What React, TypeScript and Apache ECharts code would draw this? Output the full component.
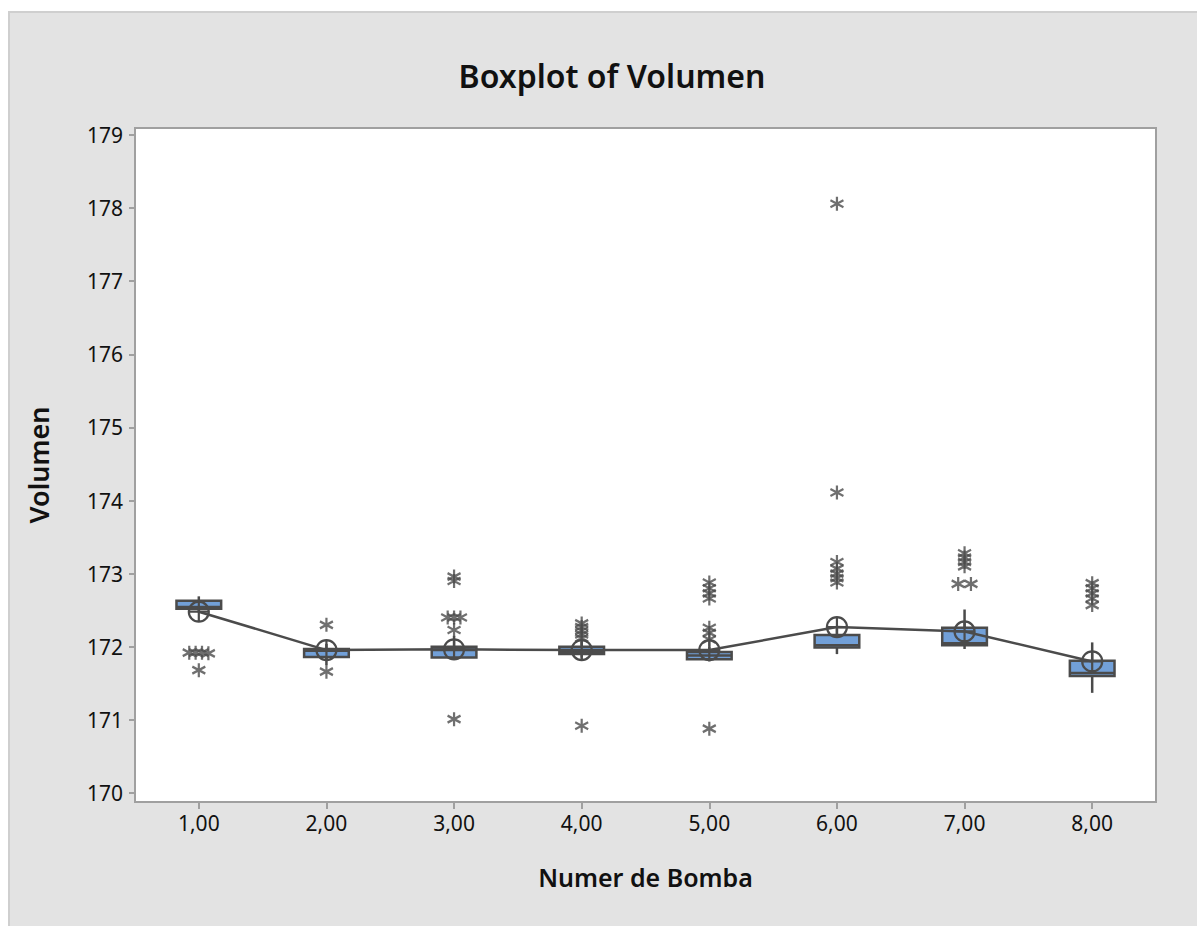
import React, { useEffect, useRef } from "react";
import * as echarts from "echarts";

// ---- data ----
const categories = ["1,00", "2,00", "3,00", "4,00", "5,00", "6,00", "7,00", "8,00"];
const yTicks = [170, 171, 172, 173, 174, 175, 176, 177, 178, 179];
// [lowWhisker, Q1, median, Q3, highWhisker]
const boxStats: number[][] = [
  [172.47, 172.52, 172.545, 172.63, 172.69],
  [171.75, 171.86, 171.945, 171.97, 172.04],
  [171.82, 171.855, 171.955, 172.0, 172.15],
  [171.85, 171.9, 171.93, 172.0, 172.07],
  [171.8, 171.83, 171.88, 171.93, 172.0],
  [171.9, 171.99, 172.02, 172.16, 172.25],
  [171.97, 172.02, 172.05, 172.26, 172.51],
  [171.37, 171.6, 171.64, 171.81, 172.06],
];
const means = [172.48, 171.955, 171.965, 171.955, 171.955, 172.27, 172.21, 171.8];
// [group (1-based), value, tie slot]
const outliers: number[][] = [
  [1, 171.92, -1.5], [1, 171.92, -0.5], [1, 171.92, 0.5], [1, 171.91, 1.5], [1, 171.68, 0],
  [2, 172.3, 0], [2, 171.66, 0],
  [3, 172.96, 0], [3, 172.9, 0], [3, 172.4, -1], [3, 172.4, 0], [3, 172.4, 1], [3, 172.23, 0], [3, 171.01, 0],
  [4, 172.32, 0], [4, 172.27, 0], [4, 172.22, 0], [4, 172.17, 0], [4, 172.12, 0], [4, 170.92, 0],
  [5, 172.88, 0], [5, 172.8, 0], [5, 172.73, 0], [5, 172.66, 0], [5, 172.26, 0], [5, 172.19, 0], [5, 172.1, 0], [5, 170.88, 0],
  [6, 178.06, 0], [6, 174.11, 0], [6, 173.16, 0], [6, 173.07, 0], [6, 173.0, 0], [6, 172.94, 0], [6, 172.88, 0],
  [7, 173.28, 0], [7, 173.22, 0], [7, 173.16, 0], [7, 173.1, 0], [7, 172.86, -1], [7, 172.86, 1],
  [8, 172.87, 0], [8, 172.8, 0], [8, 172.73, 0], [8, 172.66, 0], [8, 172.57, 0],
];

const TIE_SPACING = 0.05;
const DARK = "#4b4b4b";
const BOX_FILL = "#72a0d8";
const AXIS_GRAY = "#a0a0a0";
const FONT = "'Noto Sans', 'Open Sans', sans-serif";

const MEAN_SYMBOL = "path://M0,-10A10,10 0 1,1 0,10A10,10 0 1,1 0,-10ZM-10,0L10,0M0,-10L0,10";
const STAR_SYMBOL = "path://M0,-6L0,6M-5.2,-3L5.2,3M-5.2,3L5.2,-3";

export default function App() {
  const ref = useRef<HTMLDivElement>(null);
  useEffect(() => {
    if (!ref.current) return;
    const chart = echarts.init(ref.current, null, { renderer: "svg" });
    const boxData = boxStats.map((s, i) => [i, ...s]);
    const meanData = means.map((m, i) => [i + 1, m]);
    const outData = outliers.map((o) => [o[0] + o[2] * TIE_SPACING, o[1]]);

    chart.setOption({
      animation: false,
      backgroundColor: "#ffffff",
      textStyle: { fontFamily: FONT },
      graphic: [
        {
          type: "rect",
          z: -100,
          silent: true,
          shape: { x: 9, y: 12, width: 1200, height: 930 },
          style: { fill: "#e3e3e3", stroke: "#cfcfcf", lineWidth: 2 },
        },
        {
          type: "text",
          x: 612,
          y: 75,
          style: {
            text: "Boxplot of Volumen",
            fontSize: 32,
            fontWeight: 600,
            fontFamily: FONT,
            fill: "#111",
            textAlign: "center",
            textVerticalAlign: "middle",
          },
        },
      ],
      grid: {
        left: 135,
        top: 128,
        width: 1021,
        height: 674,
        show: true,
        backgroundColor: "#ffffff",
        borderColor: AXIS_GRAY,
        borderWidth: 2,
      },
      xAxis: [
        {
          type: "category",
          data: categories,
          boundaryGap: true,
          name: "Numer de Bomba",
          nameLocation: "middle",
          nameGap: 62,
          nameTextStyle: { fontSize: 25, color: "#111", fontFamily: FONT, fontWeight: 600 },
          axisLine: { show: true, lineStyle: { color: AXIS_GRAY, width: 2 } },
          axisTick: { show: true, alignWithLabel: true, length: 7, lineStyle: { color: AXIS_GRAY, width: 2 } },
          axisLabel: { fontSize: 21, color: "#111", margin: 10, fontFamily: FONT },
          splitLine: { show: false },
        },
        {
          type: "value",
          min: 0.5,
          max: 8.5,
          show: false,
        },
      ],
      yAxis: {
        type: "value",
        min: 169.877,
        max: 179.096,
        name: "Volumen",
        nameLocation: "middle",
        nameGap: 83,
        nameRotate: 90,
        nameTextStyle: { fontSize: 27, color: "#111", fontFamily: FONT, fontWeight: 600 },
        axisLine: { show: true, lineStyle: { color: AXIS_GRAY, width: 2 } },
        axisTick: { show: true, length: 6, customValues: yTicks, lineStyle: { color: AXIS_GRAY, width: 2 } },
        axisLabel: { fontSize: 21, color: "#111", margin: 12, customValues: yTicks, fontFamily: FONT },
        splitLine: { show: false },
      },
      series: [
        {
          type: "custom",
          xAxisIndex: 0,
          z: 2,
          encode: { x: 0, y: [1, 2, 3, 4, 5] },
          data: boxData,
          renderItem: (params: any, api: any) => {
            const idx = api.value(0);
            const lo = api.coord([idx, api.value(1)]);
            const q1 = api.coord([idx, api.value(2)]);
            const med = api.coord([idx, api.value(3)]);
            const q3 = api.coord([idx, api.value(4)]);
            const hi = api.coord([idx, api.value(5)]);
            const w = api.size([1, 0])[0] * 0.35;
            const cx = q1[0];
            const lineStyle = { stroke: DARK, lineWidth: 2.5 };
            return {
              type: "group",
              children: [
                { type: "line", shape: { x1: cx, y1: hi[1], x2: cx, y2: q3[1] }, style: lineStyle },
                { type: "line", shape: { x1: cx, y1: q1[1], x2: cx, y2: lo[1] }, style: lineStyle },
                {
                  type: "rect",
                  shape: { x: cx - w / 2, y: q3[1], width: w, height: q1[1] - q3[1] },
                  style: { fill: BOX_FILL, stroke: DARK, lineWidth: 2.5 },
                },
                { type: "line", shape: { x1: cx - w / 2, y1: med[1], x2: cx + w / 2, y2: med[1] }, style: lineStyle },
              ],
            };
          },
        },
        {
          type: "line",
          xAxisIndex: 1,
          z: 3,
          data: meanData,
          symbol: MEAN_SYMBOL,
          symbolSize: 20,
          lineStyle: { color: DARK, width: 2.5 },
          itemStyle: { color: "rgba(0,0,0,0)", borderColor: DARK, borderWidth: 2.2 },
        },
        {
          type: "scatter",
          xAxisIndex: 1,
          z: 4,
          data: outData,
          symbol: STAR_SYMBOL,
          symbolSize: [13, 14],
          itemStyle: { color: "rgba(0,0,0,0)", borderColor: DARK, borderWidth: 2.3 },
        },
      ],
    });
    return () => chart.dispose();
  }, []);
  return (
    <div
      ref={ref}
      style={{ position: "absolute", left: 0, top: 0, width: 1197, height: 926 }}
    />
  );
}
